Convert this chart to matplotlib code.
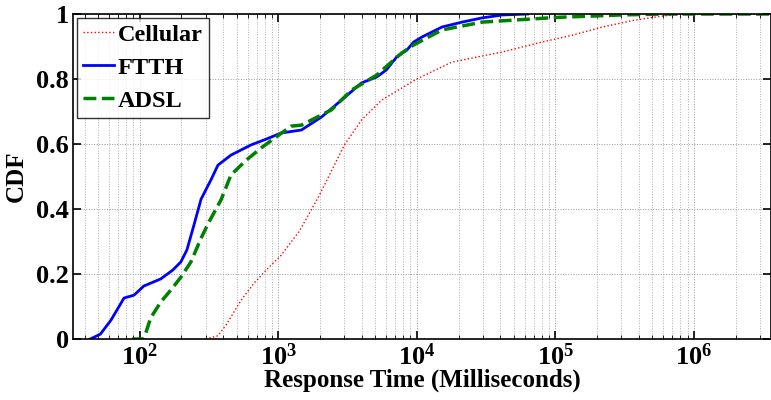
##CDF of response times per access type, MATLAB-like look
import matplotlib
matplotlib.use('Agg')
import matplotlib.pyplot as plt
from matplotlib.ticker import LogLocator, NullFormatter

plt.rcParams['font.family'] = ['Liberation Serif', 'DejaVu Serif']
plt.rcParams['font.weight'] = 'bold'
plt.rcParams['mathtext.fontset'] = 'custom'
plt.rcParams['mathtext.rm'] = 'Liberation Serif:bold'
plt.rcParams['mathtext.bf'] = 'Liberation Serif:bold'
plt.rcParams['mathtext.default'] = 'bf'

##values (ms, CDF)
ftth_x = [44, 52, 62, 77, 91, 107, 142, 173, 198, 219, 246, 277, 327, 367, 456, 635, 818,
          1050, 1468, 2050, 2860, 3990, 5130, 6030, 7160, 8470, 9510, 10870, 15200, 21200,
          29600, 41300, 63000]
ftth_y = [0, 0.015, 0.058, 0.126, 0.135, 0.163, 0.185, 0.212, 0.237, 0.274, 0.35, 0.43, 0.49,
          0.535, 0.566, 0.597, 0.615, 0.634, 0.643, 0.683, 0.735, 0.788, 0.806, 0.828, 0.868,
          0.889, 0.914, 0.929, 0.96, 0.975, 0.988, 0.997, 1.0]

adsl_x = [88, 107, 120, 142, 168, 198, 234, 277, 316, 386, 456, 586, 753, 968, 1242, 1468,
          2420, 3380, 5130, 7780, 9510, 15200, 29600, 69000, 108700, 296000, 600000, 3600000]
adsl_y = [0, 0, 0.065, 0.114, 0.151, 0.19, 0.237, 0.31, 0.36, 0.428, 0.505, 0.55, 0.588,
          0.622, 0.655, 0.658, 0.705, 0.766, 0.812, 0.88, 0.905, 0.951, 0.975, 0.985, 0.99,
          0.997, 1.0, 1.0]

cell_x = [300, 367, 420, 540, 670, 818, 1050, 1420, 1950, 3000, 3990, 5570, 10000, 17900,
          41300, 80500, 133000, 219000, 361000, 596000, 900000, 3600000]
cell_y = [0, 0.01, 0.043, 0.12, 0.172, 0.212, 0.258, 0.332, 0.437, 0.597, 0.674, 0.735, 0.8,
          0.852, 0.883, 0.914, 0.935, 0.96, 0.98, 0.994, 1.0, 1.0]

fig = plt.figure(figsize=(7.71, 4.0), dpi=100)
ax = fig.add_axes([0.0947, 0.1525, 0.9053, 0.8125])

ax.plot(cell_x, cell_y, color='red', linestyle=':', linewidth=1.0, label='Cellular')
ax.plot(ftth_x, ftth_y, color='blue', linestyle='-', linewidth=2.0, label='FTTH')
ax.plot(adsl_x, adsl_y, color=(0, 0.5, 0), linestyle='--', linewidth=2.5, label='ADSL')

ax.set_xscale('log')
ax.set_xlim(33, 3.6e6)
ax.set_ylim(0, 1)
ax.set_yticks([0, 0.2, 0.4, 0.6, 0.8, 1])
ax.set_yticklabels(['0', '0.2', '0.4', '0.6', '0.8', '1'])
ax.xaxis.set_major_locator(LogLocator(base=10, numticks=10))
ax.xaxis.set_minor_locator(LogLocator(base=10, subs=range(2, 10), numticks=100))
ax.xaxis.set_minor_formatter(NullFormatter())

ax.grid(True, which='major', linestyle=':', color='#999999', linewidth=0.7)
ax.grid(True, which='minor', axis='x', linestyle=':', color='#b0b0b0', linewidth=0.7)
ax.tick_params(which='both', direction='in', top=True, right=True, labelsize=19, pad=3)
ax.tick_params(which='major', length=6, width=1.2)
ax.tick_params(which='minor', length=3)
for s in ax.spines.values():
    s.set_linewidth(1.2)

ax.set_xlabel('Response Time (Milliseconds)', fontsize=18, fontweight='bold', labelpad=-1)
ax.set_ylabel('CDF', fontsize=18, fontweight='bold', labelpad=6)

leg = ax.legend(loc='upper left', fontsize=17.5, frameon=True, fancybox=False,
                borderaxespad=0.15, handlelength=1.3, handletextpad=0.15,
                borderpad=0.25, labelspacing=0.45)
leg.get_frame().set_edgecolor('black')
leg.get_frame().set_linewidth(1.0)

fig.savefig('out.png', dpi=100)
